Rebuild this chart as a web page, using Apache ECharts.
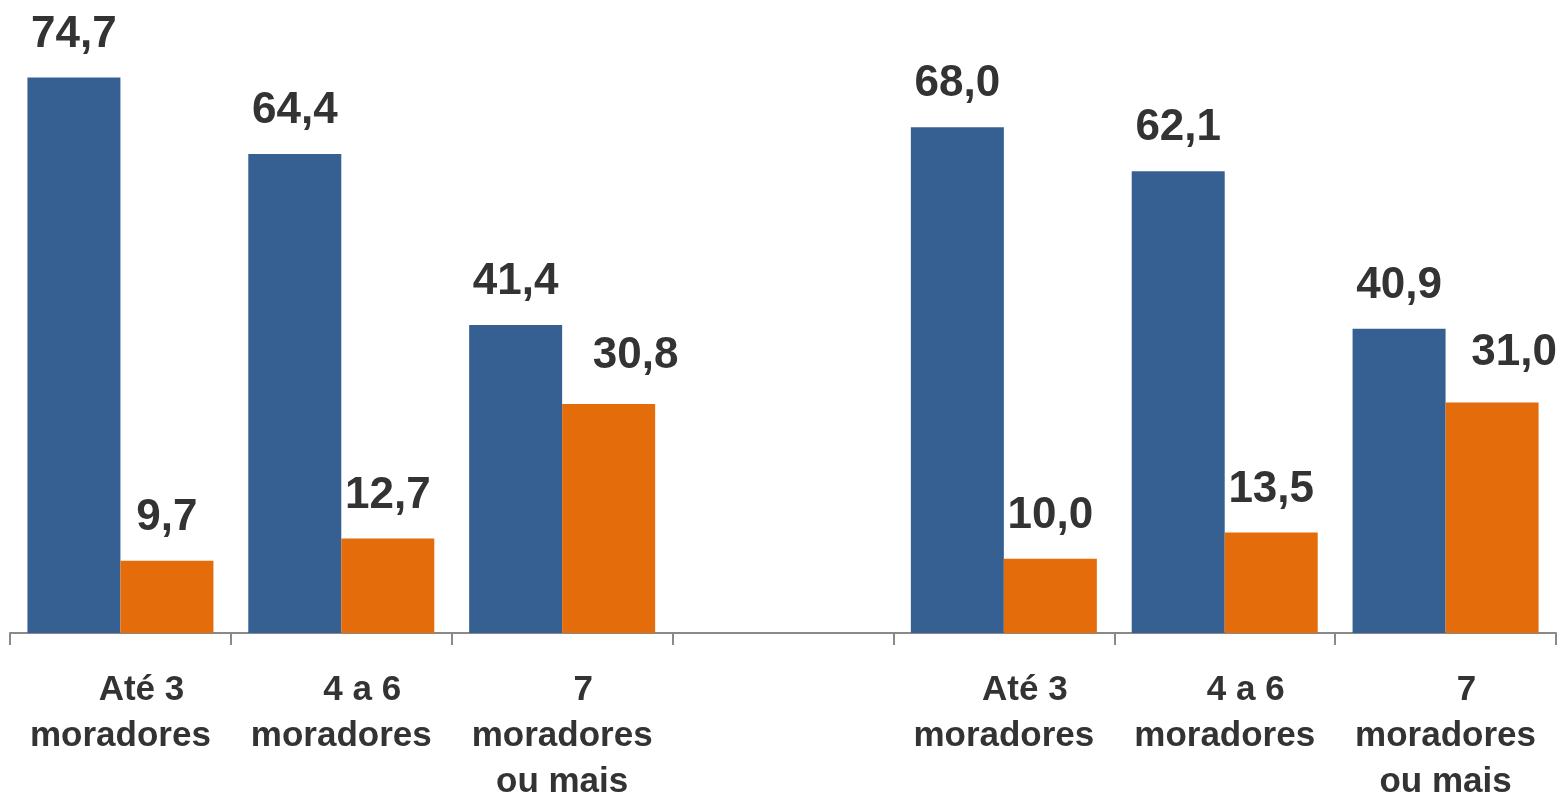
<!DOCTYPE html>
<html>
<head>
<meta charset="utf-8">
<script src="https://cdn.jsdelivr.net/npm/echarts@6/dist/echarts.min.js"></script>
<style>
  html, body { margin: 0; padding: 0; background: #fff; }
  #chart { width: 1559px; height: 796px; }
</style>
</head>
<body>
<div id="chart"></div>
<script>
// Household size groups (the empty slot separates the two panels)
const categories = [
  'Até 3\nmoradores',
  '4 a 6\nmoradores',
  '7\nmoradores\nou mais',
  '',
  'Até 3\nmoradores',
  '4 a 6\nmoradores',
  '7\nmoradores\nou mais'
];
const blueValues   = [74.7, 64.4, 41.4, '-', 68.0, 62.1, 40.9];
const orangeValues = [9.7, 12.7, 30.8, '-', 10.0, 13.5, 31.0];

const FONT = '"Liberation Sans", Arial, sans-serif';
const TEXT = '#333333';

const fmt = p => (typeof p.value === 'number') ? p.value.toFixed(1).replace('.', ',') : '';

const valueLabel = {
  show: true,
  position: 'top',
  distance: 21,
  formatter: fmt,
  fontFamily: FONT,
  fontWeight: 'bold',
  fontSize: 44,
  color: TEXT
};

// Labels of the tallest orange bars are nudged right, clear of the blue labels
const orangeLabelShift = { 2: [27, -5], 6: [22, -7] };
const orangeData = orangeValues.map((v, i) =>
  orangeLabelShift[i] ? { value: v, label: { offset: orangeLabelShift[i] } } : v
);

const chart = echarts.init(document.getElementById('chart'), null, { renderer: 'canvas' });
chart.setOption({
  animation: false,
  backgroundColor: '#ffffff',
  grid: { left: 10, right: 3, top: 38, bottom: 163, containLabel: false, outerBoundsMode: 'none' },
  xAxis: {
    type: 'category',
    data: categories,
    boundaryGap: true,
    axisLine: { show: true, lineStyle: { color: '#898989', width: 2 } },
    axisTick: { show: true, alignWithLabel: false, length: 12, lineStyle: { color: '#898989', width: 2 } },
    axisLabel: {
      interval: 0,
      margin: 34,
      formatter: v => {
        if (!v) return '';
        const lines = v.split('\n');
        return ['{a|' + lines[0] + '}'].concat(lines.slice(1).map(l => '{b|' + l + '}')).join('\n');
      },
      rich: {
        a: { fontFamily: FONT, fontWeight: 'bold', fontSize: 35, color: TEXT, lineHeight: 46, padding: [0, 0, 0, 42] },
        b: { fontFamily: FONT, fontWeight: 'bold', fontSize: 35, color: TEXT, lineHeight: 46 }
      }
    }
  },
  yAxis: {
    type: 'value',
    min: 0,
    max: 80,
    show: false,
    splitLine: { show: false }
  },
  series: [
    {
      name: 'serieA',
      type: 'bar',
      data: blueValues,
      barWidth: 93,
      barGap: '0%',
      itemStyle: { color: '#366092' },
      label: valueLabel
    },
    {
      name: 'serieB',
      type: 'bar',
      data: orangeData,
      barWidth: 93,
      barGap: '0%',
      itemStyle: { color: '#E46C0A' },
      label: valueLabel
    }
  ]
});
</script>
</body>
</html>
